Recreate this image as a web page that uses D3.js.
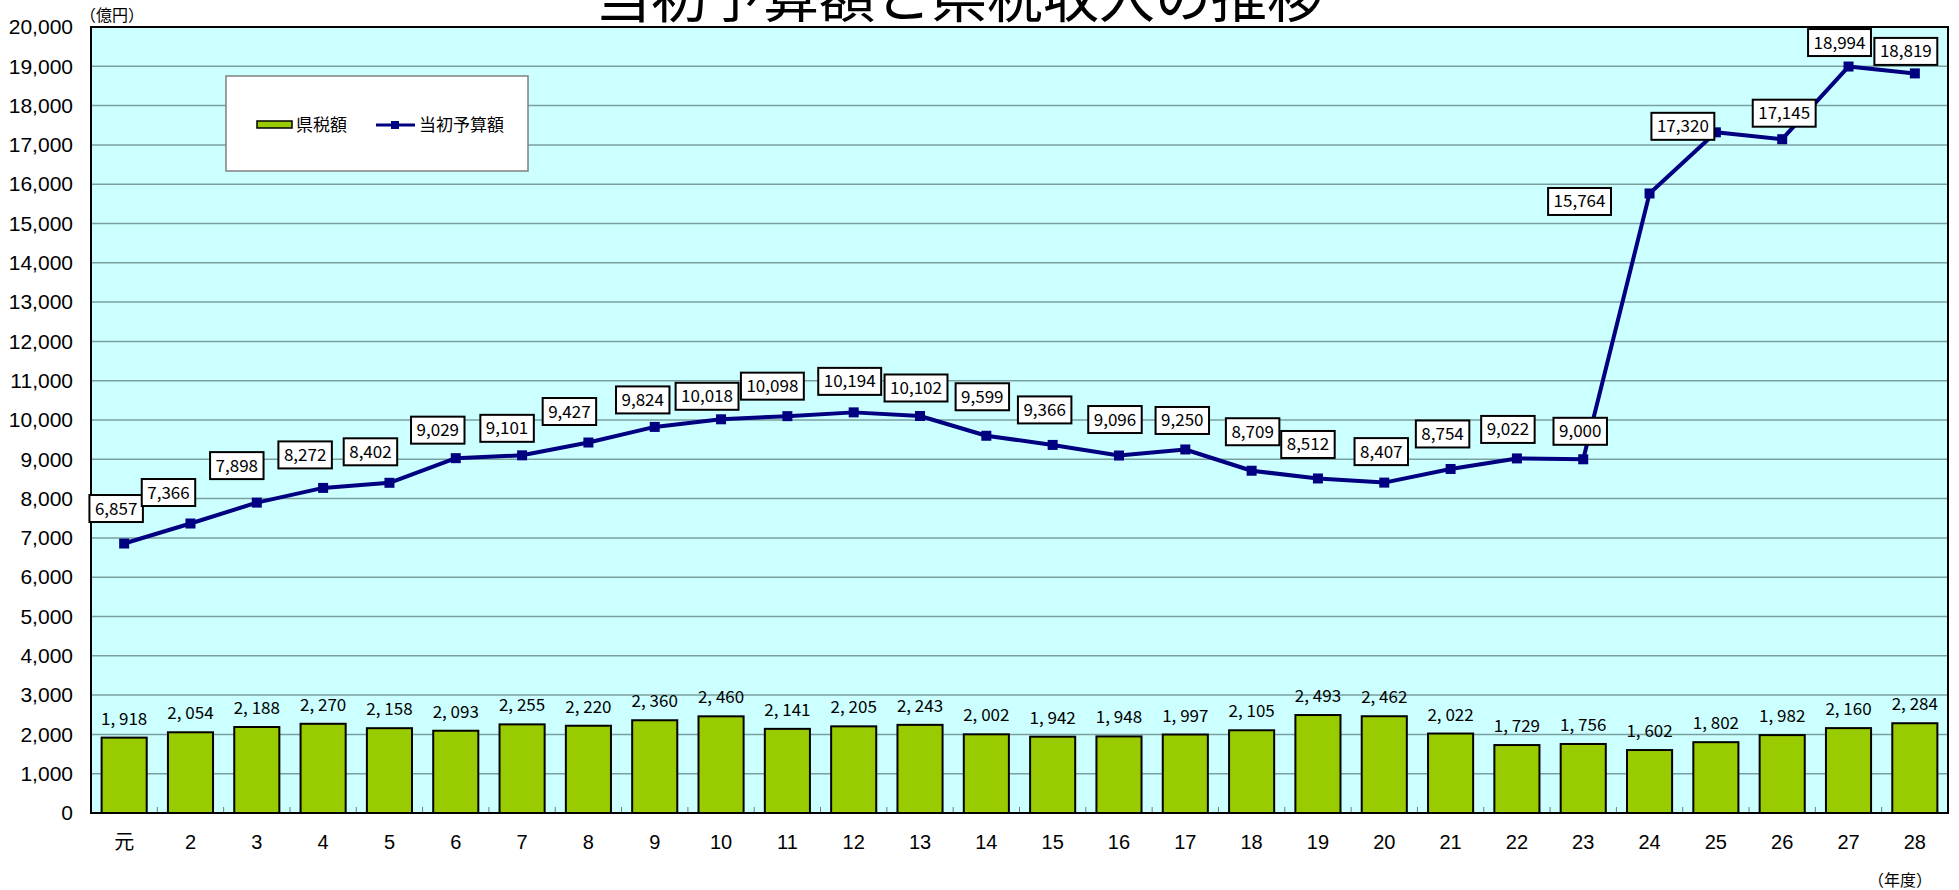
<!DOCTYPE html>
<html>
<head>
<meta charset="utf-8">
<script src="https://cdn.jsdelivr.net/npm/d3@7"></script>
<style>
  html, body { margin: 0; padding: 0; background: #ffffff; }
  svg { display: block; }
</style>
</head>
<body>
<svg id="chart" width="1959" height="890"></svg>
<script>
// ---- data ----
const categories = ["元","2","3","4","5","6","7","8","9","10","11","12","13","14","15","16","17","18","19","20","21","22","23","24","25","26","27","28"];
const taxRevenue = [1918,2054,2188,2270,2158,2093,2255,2220,2360,2460,2141,2205,2243,2002,1942,1948,1997,2105,2493,2462,2022,1729,1756,1602,1802,1982,2160,2284];
const initialBudget = [6857,7366,7898,8272,8402,9029,9101,9427,9824,10018,10098,10194,10102,9599,9366,9096,9250,8709,8512,8407,8754,9022,9000,15764,17320,17145,18994,18819];
const yTicks = [0,1000,2000,3000,4000,5000,6000,7000,8000,9000,10000,11000,12000,13000,14000,15000,16000,17000,18000,19000,20000];
const seriesNames = ["県税額", "当初予算額"];
const titleText = "当初予算額と県税収入の推移";
const yUnitText = "（億円）";
const xUnitText = "（年度）";

// ---- layout (label placement relative to each point) ----
const budgetLabelOffsets = [[-8,-35],[-22,-31],[-20,-37],[-18,-33],[-19,-31],[-18,-28],[-15,-27],[-19,-31],[-12,-27],[-14,-23],[-15,-30],[-4,-31],[-4,-28],[-4,-39],[-8,-35],[-4,-36],[-3,-29],[1,-39],[-10,-34],[-3,-31],[-8,-35],[-9,-29],[-3,-28],[-70,8],[-33,-6],[2,-26],[-9,-24],[-9,-22]];

const svg = d3.select("#chart");
const pLeft = 91, pRight = 1948, pTop = 27, pBottom = 813;
const jp = "'Noto Sans CJK JP', sans-serif";
const num = "'Liberation Sans', 'Noto Sans CJK JP', sans-serif";

const x = d3.scaleBand().domain(categories).range([pLeft, pRight]).paddingInner(0.32).paddingOuter(0.16);
const y = d3.scaleLinear().domain([0, 20000]).range([pBottom, pTop]);

// title (partly above the top edge, as in the reference)
svg.append("text").attr("x", 959).attr("y", 17).attr("text-anchor", "middle")
  .attr("font-family", jp).attr("font-size", 56).attr("fill", "#000").text(titleText);

// plot background
svg.append("rect").attr("x", pLeft).attr("y", pTop).attr("width", pRight - pLeft).attr("height", pBottom - pTop)
  .attr("fill", "#ccffff");

// gridlines
svg.append("g").selectAll("line").data(yTicks.filter(d => d > 0 && d < 20000)).join("line")
  .attr("x1", pLeft).attr("x2", pRight).attr("y1", d => y(d)).attr("y2", d => y(d))
  .attr("stroke", "#7a9f9f").attr("stroke-width", 1.5);

// y axis labels
const yAxis = d3.axisLeft(y).tickValues(yTicks).tickSize(0).tickPadding(18).tickFormat(d3.format(","));
const gy = svg.append("g").attr("transform", `translate(${pLeft},0)`).call(yAxis);
gy.select(".domain").remove();
gy.selectAll("text").attr("font-family", num).attr("font-size", 21).attr("fill", "#000");

// x axis labels
const xAxis = d3.axisBottom(x).tickSize(0).tickPadding(22);
const gx = svg.append("g").attr("transform", `translate(0,${pBottom})`).call(xAxis);
gx.select(".domain").remove();
gx.selectAll("text").attr("font-family", num).attr("font-size", 20).attr("fill", "#000");

// minor ticks between categories
const step = x.step();
svg.append("g").selectAll("line").data(categories.slice(1)).join("line")
  .attr("x1", d => x(d) - (step - x.bandwidth()) / 2).attr("x2", d => x(d) - (step - x.bandwidth()) / 2)
  .attr("y1", pBottom).attr("y2", pBottom - 6).attr("stroke", "#777").attr("stroke-width", 1);

// bars
svg.append("g").selectAll("rect").data(taxRevenue).join("rect")
  .attr("x", (d, i) => x(categories[i])).attr("width", x.bandwidth())
  .attr("y", d => y(d)).attr("height", d => pBottom - y(d))
  .attr("fill", "#99cc00").attr("stroke", "#000").attr("stroke-width", 2);

// bar labels
const fmt = d3.format(",");
svg.append("g").selectAll("text").data(taxRevenue).join("text")
  .attr("x", (d, i) => x(categories[i]) + x.bandwidth() / 2).attr("y", d => y(d) - 13)
  .attr("text-anchor", "middle").attr("font-family", jp).attr("font-size", 17).attr("fill", "#000")
  .text(d => fmt(d).replace(",", ", "));

// plot border
svg.append("rect").attr("x", pLeft).attr("y", pTop).attr("width", pRight - pLeft).attr("height", pBottom - pTop)
  .attr("fill", "none").attr("stroke", "#000").attr("stroke-width", 2);

// line
const cx = (i) => x(categories[i]) + x.bandwidth() / 2;
const line = d3.line().x((d, i) => cx(i)).y(d => y(d));
svg.append("path").datum(initialBudget).attr("d", line).attr("fill", "none")
  .attr("stroke", "#000080").attr("stroke-width", 4).attr("stroke-linejoin", "round");
svg.append("g").selectAll("rect").data(initialBudget).join("rect")
  .attr("x", (d, i) => cx(i) - 5).attr("y", d => y(d) - 5).attr("width", 10).attr("height", 10)
  .attr("fill", "#000080");

// line labels
const lg = svg.append("g");
initialBudget.forEach((d, i) => {
  const lx = cx(i) + budgetLabelOffsets[i][0];
  const ly = y(d) + budgetLabelOffsets[i][1];
  const g = lg.append("g");
  const r = g.append("rect").attr("fill", "#fff").attr("stroke", "#000").attr("stroke-width", 2);
  const t = g.append("text").attr("x", lx).attr("y", ly + 6).attr("text-anchor", "middle")
    .attr("font-family", jp).attr("font-size", 17).attr("fill", "#000").text(fmt(d));
  const w = t.node().getBBox().width + 11;
  r.attr("x", lx - w / 2).attr("y", ly - 13.5).attr("width", w).attr("height", 27);
});

// legend
const leg = svg.append("g");
leg.append("rect").attr("x", 226).attr("y", 76).attr("width", 302).attr("height", 95)
  .attr("fill", "#fff").attr("stroke", "#808080").attr("stroke-width", 1.5);
leg.append("rect").attr("x", 257).attr("y", 121).attr("width", 35).attr("height", 7)
  .attr("fill", "#99cc00").attr("stroke", "#000").attr("stroke-width", 1.5);
leg.append("text").attr("x", 296).attr("y", 131).attr("font-family", jp).attr("font-size", 17)
  .attr("fill", "#000").text(seriesNames[0]);
leg.append("line").attr("x1", 376).attr("x2", 415).attr("y1", 125).attr("y2", 125)
  .attr("stroke", "#000080").attr("stroke-width", 3);
leg.append("rect").attr("x", 391).attr("y", 121).attr("width", 8).attr("height", 8).attr("fill", "#000080");
leg.append("text").attr("x", 419).attr("y", 131).attr("font-family", jp).attr("font-size", 17)
  .attr("fill", "#000").text(seriesNames[1]);

// unit labels
svg.append("text").attr("x", 80).attr("y", 21).attr("font-family", jp).attr("font-size", 16)
  .attr("fill", "#000").text(yUnitText);
svg.append("text").attr("x", 1868).attr("y", 886).attr("font-family", jp).attr("font-size", 16)
  .attr("fill", "#000").text(xUnitText);
</script>
</body>
</html>
